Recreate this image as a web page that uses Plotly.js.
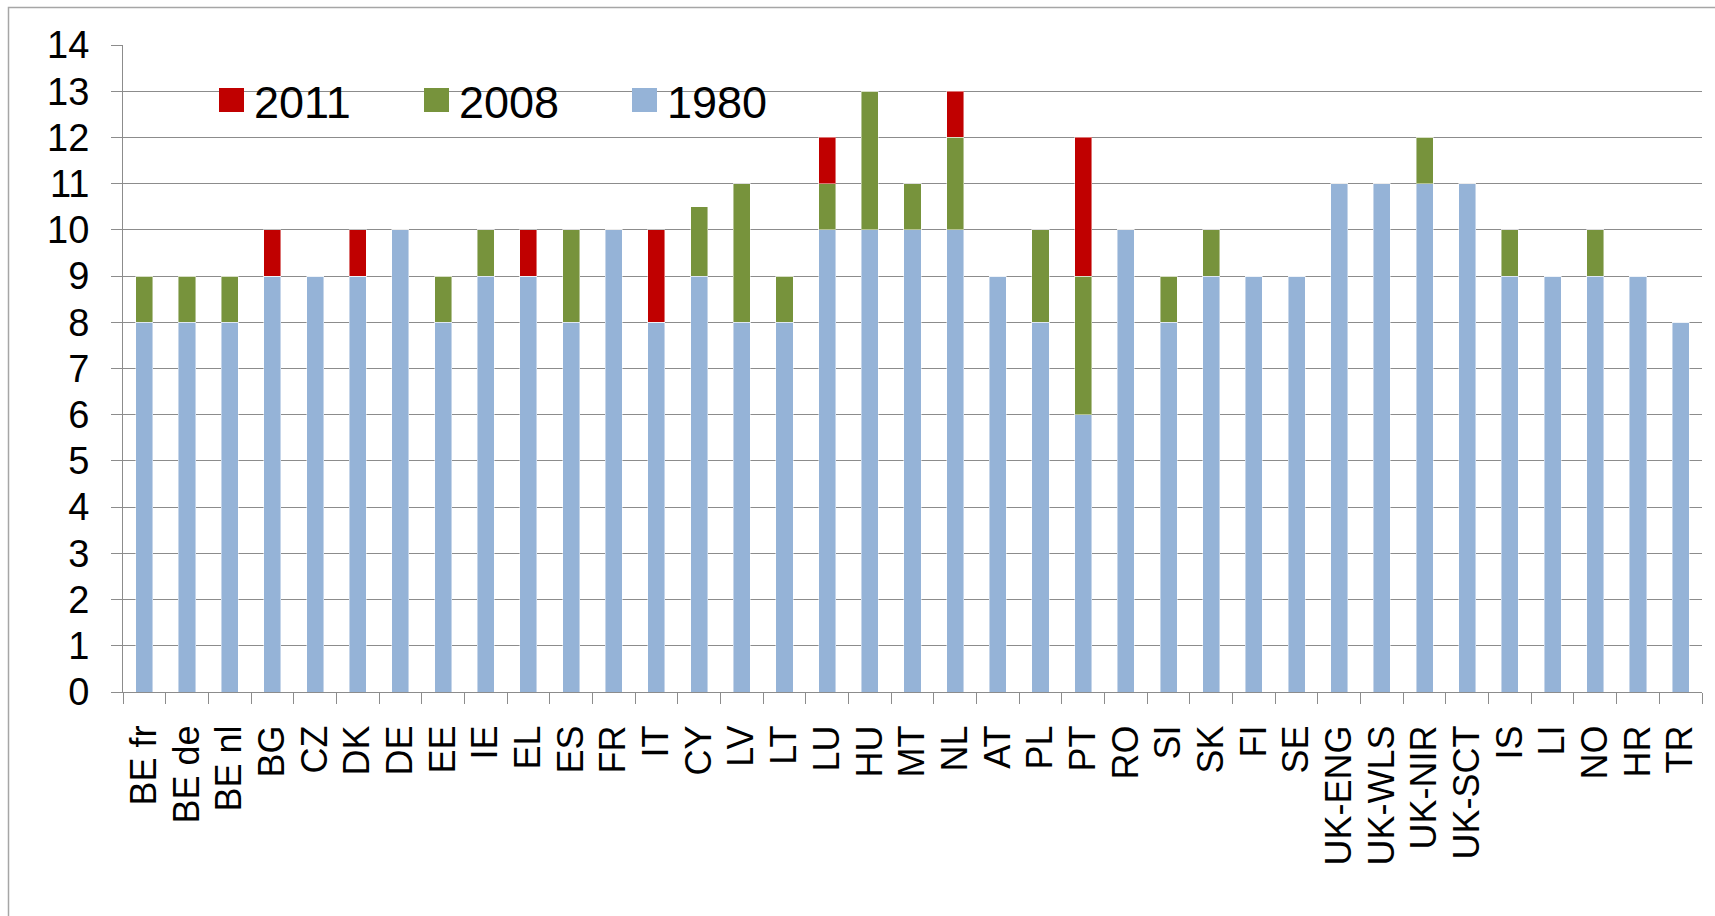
<!DOCTYPE html>
<html>
<head>
<meta charset="utf-8">
<script src="https://cdn.plot.ly/plotly-3.0.1.min.js"></script>
<style>
html,body{margin:0;padding:0;background:#fff;}
#chart{width:1715px;height:916px;}
</style>
</head>
<body>
<div id="chart"></div>
<script>
const categories = ["BE fr","BE de","BE nl","BG","CZ","DK","DE","EE","IE","EL","ES","FR","IT","CY","LV","LT","LU","HU","MT","NL","AT","PL","PT","RO","SI","SK","FI","SE","UK-ENG","UK-WLS","UK-NIR","UK-SCT","IS","LI","NO","HR","TR"];
const values1980 = [8,8,8,9,9,9,10,8,9,9,8,10,8,9,8,8,10,10,10,10,9,8,6,10,8,9,9,9,11,11,11,11,9,9,9,9,8];
const values2008 = [1,1,1,0,0,0,0,1,1,0,2,0,0,1.5,3,1,1,3,1,2,0,2,3,0,1,1,0,0,0,0,1,0,1,0,1,0,0];
const values2011 = [0,0,0,1,0,1,0,0,0,1,0,0,2,0,0,0,1,0,0,1,0,0,3,0,0,0,0,0,0,0,0,0,0,0,0,0,0];
const seriesNames = ["2011","2008","1980"];
const seriesColors = {"2011":"#C00000","2008":"#77933C","1980":"#95B3D7"};
const yTicks = [0,1,2,3,4,5,6,7,8,9,10,11,12,13,14];

const FONT = "Liberation Sans, Arial, sans-serif";

function barTrace(name, vals){
  return {
    type:"bar", name:name, x:categories, y:vals,
    marker:{color:seriesColors[name], line:{color:"rgba(255,255,255,0.45)", width:1}},
    showlegend:false, hoverinfo:"x+y+name"
  };
}
const traces = [barTrace("1980", values1980), barTrace("2008", values2008), barTrace("2011", values2011)];

// plot area pixel geometry
const W=1715, H=916, L=123, R=13, T=45, B=224;
const pw = W-L-R, ph = H-T-B;
function px2paperX(px){return (px-L)/pw;}
function px2paperY(py){return (H-B-py)/ph;}

const shapes = [];
const annotations = [];
// outer frame
shapes.push({type:"rect", xref:"paper", yref:"paper",
  x0:px2paperX(8.5), x1:px2paperX(1730), y0:px2paperY(7.5), y1:px2paperY(940),
  line:{color:"#a6a6a6", width:1.5}, fillcolor:"rgba(0,0,0,0)", layer:"below"});

// legend (custom, large symbols)
const legendSquareX = [219, 424, 632];
const legendY = 100;
seriesNames.forEach((n,i)=>{
  const x0 = legendSquareX[i];
  shapes.push({type:"rect", xref:"paper", yref:"paper",
    x0:px2paperX(x0), x1:px2paperX(x0+25), y0:px2paperY(legendY-12), y1:px2paperY(legendY+12),
    fillcolor:seriesColors[n], line:{width:0}, layer:"above"});
  annotations.push({xref:"paper", yref:"paper", x:px2paperX(x0+33), y:px2paperY(legendY+2),
    xanchor:"left", yanchor:"middle", text:n, showarrow:false,
    font:{family:FONT, size:45, color:"#000"}});
});

const layout = {
  width:W, height:H,
  margin:{l:L, r:R, t:T, b:B, pad:0},
  paper_bgcolor:"#ffffff", plot_bgcolor:"#ffffff",
  barmode:"stack", bargap:0.6,
  showlegend:false,
  font:{family:FONT, color:"#000"},
  xaxis:{
    type:"category", tickangle:-90,
    tickmode:"array", tickvals:categories, ticktext:categories,
    tickfont:{family:FONT, size:36, color:"#000"},
    showline:true, linecolor:"#8c8c8c", linewidth:1,
    ticks:"outside", ticklen:11, tickcolor:"#8c8c8c", tickson:"boundaries",
    ticklabelstandoff:18,
    showgrid:false, automargin:false
  },
  yaxis:{
    range:[0,14], tickvals:yTicks,
    tickfont:{family:FONT, size:38, color:"#000"},
    showline:true, linecolor:"#8c8c8c", linewidth:1,
    ticks:"outside", ticklen:11, tickcolor:"#8c8c8c",
    ticklabelstandoff:14,
    showgrid:true, gridcolor:"#8c8c8c", gridwidth:1,
    zeroline:false, automargin:false
  },
  shapes:shapes, annotations:annotations
};

Plotly.newPlot("chart", traces, layout, {displayModeBar:false, staticPlot:true});
</script>
</body>
</html>
